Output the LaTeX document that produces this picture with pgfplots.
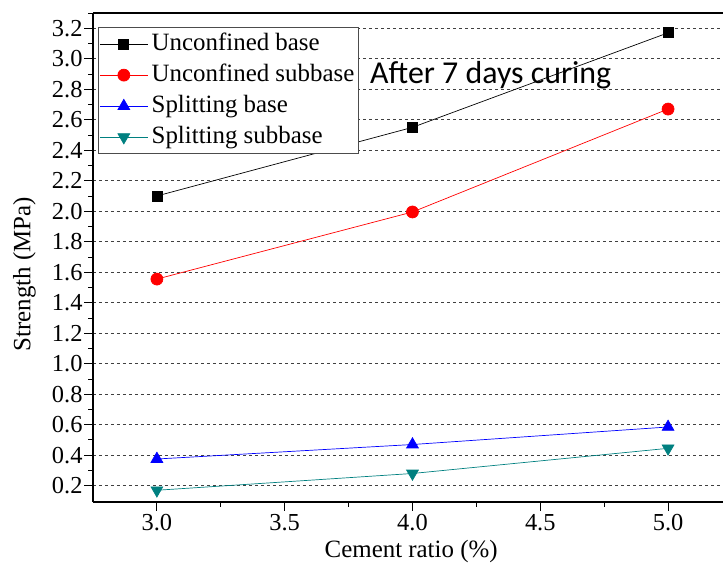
\documentclass[border=0pt]{standalone}
\usepackage{fontspec}
\setmainfont{Liberation Serif}
\newfontfamily\calibri{Carlito}
\usepackage{pgfplots}
\pgfplotsset{compat=1.18}
\definecolor{tealc}{RGB}{0,128,128}

\begin{document}
\begin{tikzpicture}
\begin{axis}[
    scale only axis,
    width=630bp, height=489bp,
    xmin=2.75, xmax=5.215,
    ymin=0.093, ymax=3.3,
    axis x line*=box, axis y line*=left,
    xtick={3,3.5,4,4.5,5},
    minor xtick={3.25,3.75,4.25,4.75,5.25},
    ytick={0.2,0.4,...,3.21},
    minor ytick={0.3,0.5,...,3.31},
    xtick pos=bottom,
    ytick pos=left,
    tick align=outside,
    major tick length=8.5bp, minor tick length=4.5bp,
    every tick/.style={black, line width=0.9pt},
    xticklabel style={/pgf/number format/fixed, /pgf/number format/fixed zerofill, /pgf/number format/precision=1},
    yticklabel style={/pgf/number format/fixed, /pgf/number format/fixed zerofill, /pgf/number format/precision=1, xshift=1.5bp},
    /pgf/number format/assume math mode=true,
    tick label style={font=\fontsize{24.5}{28}\selectfont},
    ymajorgrids,
    major grid style={black!75, dash pattern=on 3bp off 3bp, line width=0.7pt},
    axis line style={line width=1.2pt},
    xlabel={Cement ratio (\%)},
    ylabel={Strength (MPa)},
    label style={font=\fontsize{25}{30}\selectfont},
    xlabel style={at={(axis description cs:0.505,0)}, anchor=base, yshift=-55bp},
    ylabel style={at={(axis description cs:-0.109,0.466)}, anchor=center},
    legend style={at={(0.008,0.971)}, anchor=north west, draw=black!70, line width=0.9pt,
        font=\fontsize{25}{30}\selectfont, row sep=0bp, inner sep=1bp,
        nodes={text height=18bp, text depth=6bp, inner sep=3.5bp}},
    legend cell align=left,
    legend image post style={line width=0.7pt},
    legend image code/.code={
        \draw[mark repeat=2,mark phase=2] plot coordinates {(0bp,0bp) (24bp,0bp) (48bp,0bp)};},
]
\addplot[black, mark=square*, mark size=5bp, line width=0.7pt] coordinates {(3,2.10) (4,2.55) (5,3.17)};
\addplot[red, mark=*, mark size=6bp, line width=0.7pt] coordinates {(3,1.555) (4,1.995) (5,2.67)};
\addplot[blue, mark=triangle*, mark size=6.8bp, line width=0.7pt] coordinates {(3,0.375) (4,0.47) (5,0.585)};
\addplot[tealc, mark=triangle*, mark options={rotate=180}, mark size=6.8bp, line width=0.7pt] coordinates {(3,0.17) (4,0.28) (5,0.445)};
\legend{Unconfined base, Unconfined subbase, Splitting base, Splitting subbase}
\node[anchor=base west, inner sep=0pt, font=\calibri\fontsize{32}{38}\selectfont] at (axis cs:3.834,2.84) {After 7 days curing};
\end{axis}
\pgfresetboundingbox
\path[use as bounding box] ([shift={(-93bp,-77bp)}]current axis.south west) rectangle ([shift={(0bp,13bp)}]current axis.north east);
\end{tikzpicture}
\end{document}
